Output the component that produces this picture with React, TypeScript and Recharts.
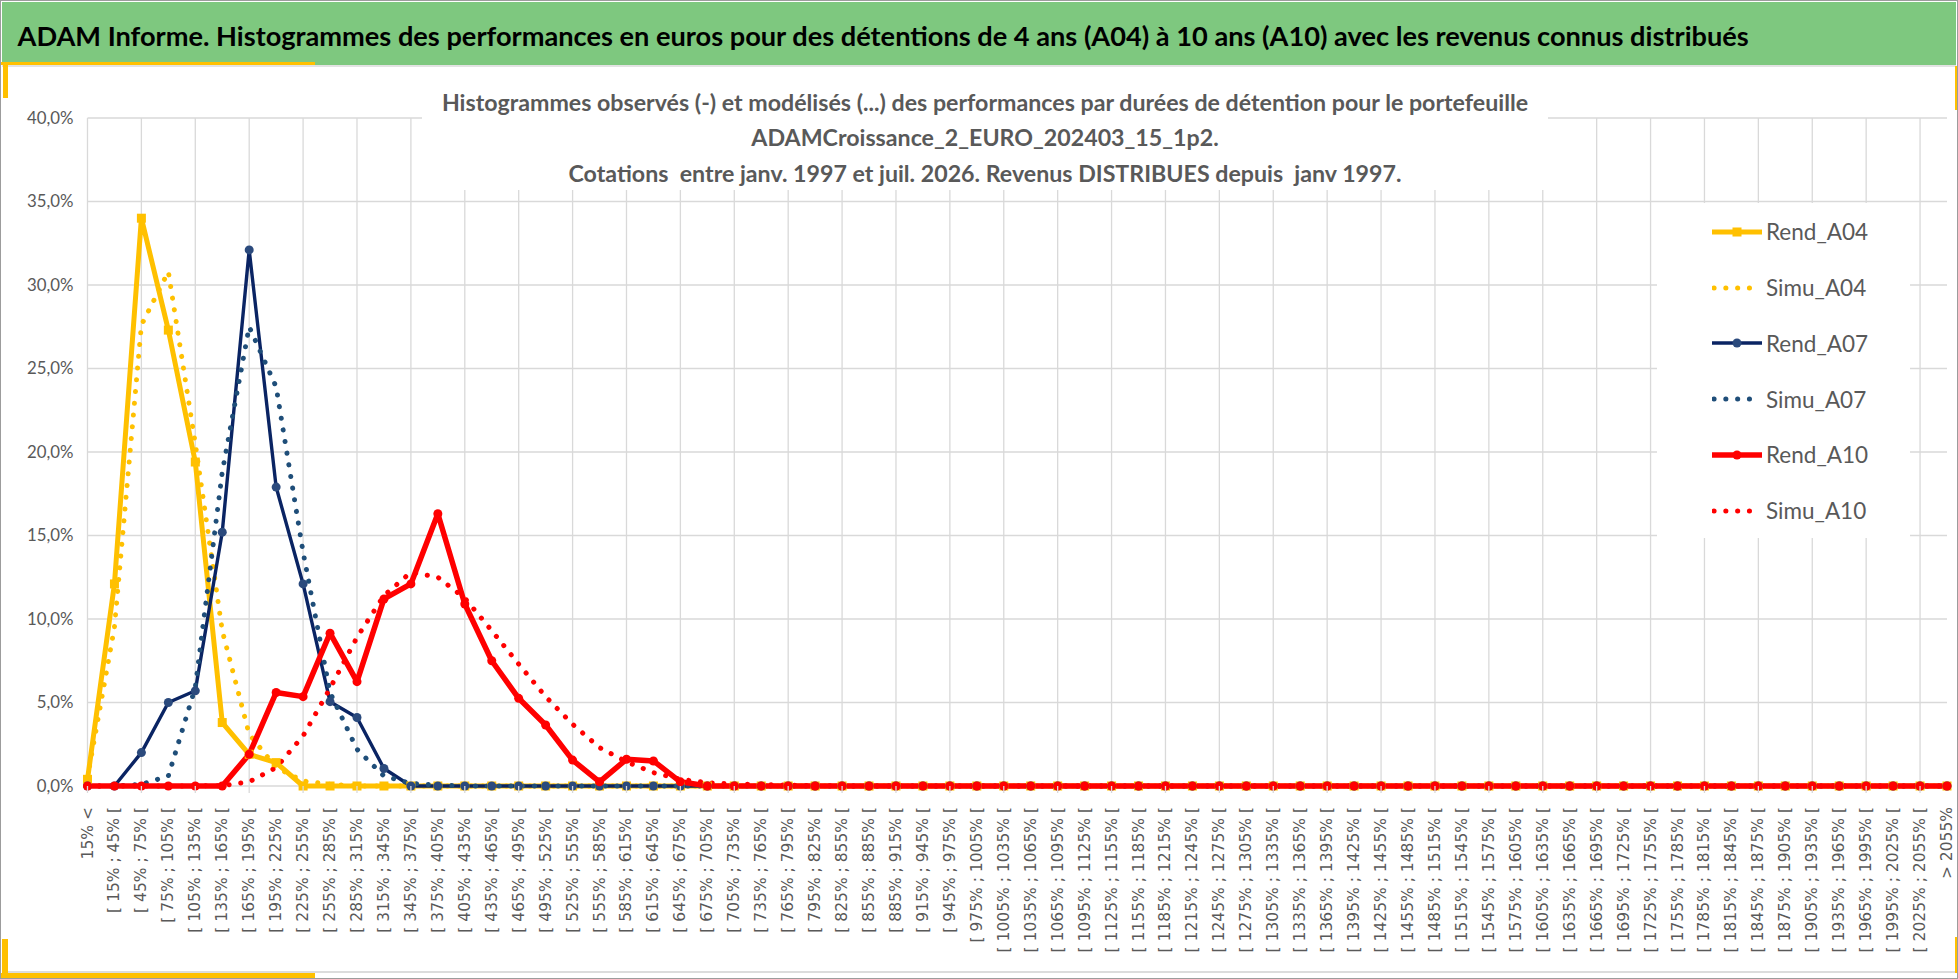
import { LineChart, Line, XAxis, YAxis, CartesianGrid, Legend } from "recharts";

const FONT = "Lato, 'Noto Sans', sans-serif";
const TICK_FONT = "'DejaVu Sans', Verdana, sans-serif";
const GREY_TEXT = "#595959";
const GRID = "#D9D9D9";

// classes de performance (axe des x)
const categories = [
  "15% <", "[ 15% ; 45% [", "[ 45% ; 75% [", "[ 75% ; 105% [", "[ 105% ; 135% [",
  "[ 135% ; 165% [", "[ 165% ; 195% [", "[ 195% ; 225% [", "[ 225% ; 255% [", "[ 255% ; 285% [",
  "[ 285% ; 315% [", "[ 315% ; 345% [", "[ 345% ; 375% [", "[ 375% ; 405% [", "[ 405% ; 435% [",
  "[ 435% ; 465% [", "[ 465% ; 495% [", "[ 495% ; 525% [", "[ 525% ; 555% [", "[ 555% ; 585% [",
  "[ 585% ; 615% [", "[ 615% ; 645% [", "[ 645% ; 675% [", "[ 675% ; 705% [", "[ 705% ; 735% [",
  "[ 735% ; 765% [", "[ 765% ; 795% [", "[ 795% ; 825% [", "[ 825% ; 855% [", "[ 855% ; 885% [",
  "[ 885% ; 915% [", "[ 915% ; 945% [", "[ 945% ; 975% [", "[ 975% ; 1005% [", "[ 1005% ; 1035% [",
  "[ 1035% ; 1065% [", "[ 1065% ; 1095% [", "[ 1095% ; 1125% [", "[ 1125% ; 1155% [", "[ 1155% ; 1185% [",
  "[ 1185% ; 1215% [", "[ 1215% ; 1245% [", "[ 1245% ; 1275% [", "[ 1275% ; 1305% [", "[ 1305% ; 1335% [",
  "[ 1335% ; 1365% [", "[ 1365% ; 1395% [", "[ 1395% ; 1425% [", "[ 1425% ; 1455% [", "[ 1455% ; 1485% [",
  "[ 1485% ; 1515% [", "[ 1515% ; 1545% [", "[ 1545% ; 1575% [", "[ 1575% ; 1605% [", "[ 1605% ; 1635% [",
  "[ 1635% ; 1665% [", "[ 1665% ; 1695% [", "[ 1695% ; 1725% [", "[ 1725% ; 1755% [", "[ 1755% ; 1785% [",
  "[ 1785% ; 1815% [", "[ 1815% ; 1845% [", "[ 1845% ; 1875% [", "[ 1875% ; 1905% [", "[ 1905% ; 1935% [",
  "[ 1935% ; 1965% [", "[ 1965% ; 1995% [", "[ 1995% ; 2025% [", "[ 2025% ; 2055% [", "> 2055%",
];

// fréquences en % (observées / modélisées)
const rendA04 = [
  0.4, 12.1, 34.0, 27.3, 19.4, 3.8, 1.9, 1.4, 0, 0,
  0, 0, 0, 0, 0, 0, 0, 0, 0, 0,
  0, 0, 0, 0, 0, 0, 0, 0, 0, 0,
  0, 0, 0, 0, 0, 0, 0, 0, 0, 0,
  0, 0, 0, 0, 0, 0, 0, 0, 0, 0,
  0, 0, 0, 0, 0, 0, 0, 0, 0, 0,
  0, 0, 0, 0, 0, 0, 0, 0, 0, 0,
];
const simuA04 = [
  0.5, 9.5, 27.6, 30.8, 20.5, 9.3, 3.1, 1.1, 0.3, 0.1,
  0, 0, 0, 0, 0, 0, 0, 0, 0, 0,
  0, 0, 0, 0, 0, 0, 0, 0, 0, 0,
  0, 0, 0, 0, 0, 0, 0, 0, 0, 0,
  0, 0, 0, 0, 0, 0, 0, 0, 0, 0,
  0, 0, 0, 0, 0, 0, 0, 0, 0, 0,
  0, 0, 0, 0, 0, 0, 0, 0, 0, 0,
];
const rendA07 = [
  0, 0, 2.0, 5.0, 5.7, 15.2, 32.1, 17.9, 12.1, 5.05,
  4.1, 1.05, 0, 0, 0, 0, 0, 0, 0, 0,
  0, 0, 0, 0, 0, 0, 0, 0, 0, 0,
  0, 0, 0, 0, 0, 0, 0, 0, 0, 0,
  0, 0, 0, 0, 0, 0, 0, 0, 0, 0,
  0, 0, 0, 0, 0, 0, 0, 0, 0, 0,
  0, 0, 0, 0, 0, 0, 0, 0, 0, 0,
];
const simuA07 = [
  0, 0, 0.1, 0.6, 5.9, 18.8, 27.5, 23.9, 14.0, 5.6,
  2.2, 0.6, 0.15, 0.05, 0, 0, 0, 0, 0, 0,
  0, 0, 0, 0, 0, 0, 0, 0, 0, 0,
  0, 0, 0, 0, 0, 0, 0, 0, 0, 0,
  0, 0, 0, 0, 0, 0, 0, 0, 0, 0,
  0, 0, 0, 0, 0, 0, 0, 0, 0, 0,
  0, 0, 0, 0, 0, 0, 0, 0, 0, 0,
];
const rendA10 = [
  0, 0, 0, 0, 0, 0, 1.9, 5.6, 5.35, 9.15,
  6.25, 11.2, 12.1, 16.3, 10.9, 7.5, 5.25, 3.65, 1.55, 0.25,
  1.6, 1.5, 0.25, 0, 0, 0, 0, 0, 0, 0,
  0, 0, 0, 0, 0, 0, 0, 0, 0, 0,
  0, 0, 0, 0, 0, 0, 0, 0, 0, 0,
  0, 0, 0, 0, 0, 0, 0, 0, 0, 0,
  0, 0, 0, 0, 0, 0, 0, 0, 0, 0,
];
const simuA10 = [
  0, 0, 0, 0, 0, 0.02, 0.25, 1.1, 3.0, 5.85,
  8.9, 11.4, 12.8, 12.5, 11.25, 9.3, 7.3, 5.35, 3.7, 2.3,
  1.45, 0.8, 0.4, 0.2, 0.12, 0.08, 0.05, 0.03, 0, 0,
  0, 0, 0, 0, 0, 0, 0, 0, 0, 0,
  0, 0, 0, 0, 0, 0, 0, 0, 0, 0,
  0, 0, 0, 0, 0, 0, 0, 0, 0, 0,
  0, 0, 0, 0, 0, 0, 0, 0, 0, 0,
];

const yTicks = [0, 5, 10, 15, 20, 25, 30, 35, 40];

const headerText =
  "ADAM Informe. Histogrammes des performances en euros pour des détentions de 4 ans (A04) à 10 ans (A10) avec les revenus connus distribués";
const titleLines = [
  "Histogrammes observés (-) et modélisés (...) des performances par durées de détention pour le portefeuille",
  "ADAMCroissance_2_EURO_202403_15_1p2.",
  "Cotations  entre janv. 1997 et juil. 2026. Revenus DISTRIBUES depuis  janv 1997.",
];

type Serie = {
  key: string;
  values: number[];
  color: string;
  width: number;
  dotted?: boolean;
  marker?: "square" | "circle";
  markerFill?: string;
};

const series: Serie[] = [
  { key: "Rend_A04", values: rendA04, color: "#FFC000", width: 5, marker: "square", markerFill: "#FFC000" },
  { key: "Simu_A04", values: simuA04, color: "#FFC000", width: 5, dotted: true },
  { key: "Rend_A07", values: rendA07, color: "#0A2463", width: 3.4, marker: "circle", markerFill: "#2B4A7D" },
  { key: "Simu_A07", values: simuA07, color: "#1F4E79", width: 5, dotted: true },
  { key: "Rend_A10", values: rendA10, color: "#FF0000", width: 5.5, marker: "circle", markerFill: "#FF0000" },
  { key: "Simu_A10", values: simuA10, color: "#FF0000", width: 5, dotted: true },
];

const data = categories.map((cat, i) => {
  const row: Record<string, any> = { cat };
  series.forEach((s) => (row[s.key] = s.values[i]));
  return row;
});

const DOT_DASH = "0.1 11.7";

const fmtPct = (v: number) => v.toFixed(1).replace(".", ",") + "%";

function squareDot(props: any) {
  const { cx, cy, index } = props;
  if (cx == null || cy == null) return <g key={`sq-${index}`} />;
  return <rect key={`sq-${index}`} x={cx - 4.5} y={cy - 4.5} width={9} height={9} fill="#FFC000" />;
}

function CategoryTick(props: any) {
  const { x, y, payload, index } = props;
  const ty = y + 21;
  return (
    <g>
      {index % 2 === 0 && <line x1={x} x2={x} y1={y} y2={y + 7} stroke={GRID} strokeWidth={1.3} />}
      <text
        x={x}
        y={ty}
        transform={`rotate(-90 ${x} ${ty})`}
        textAnchor="end"
        dominantBaseline="central"
        fill={GREY_TEXT}
        fontSize={15.5}
        fontFamily={TICK_FONT}
      >
        {payload.value}
      </text>
    </g>
  );
}

// lignes verticales de la grille : une catégorie sur deux
const gridX = (args: any) => {
  const { xAxis, offset } = args;
  const scale = xAxis && xAxis.scale;
  const out: number[] = [];
  categories.forEach((c, i) => {
    if (i % 2 !== 0) return;
    if (typeof scale === "function") out.push(scale(c));
    else out.push(offset.left + (i * offset.width) / (categories.length - 1));
  });
  return out;
};

function LegendSample({ s }: { s: Serie }) {
  if (s.dotted) {
    return (
      <svg width={50} height={14}>
        <line x1={2} x2={40} y1={7} y2={7} stroke={s.color} strokeWidth={5} strokeDasharray={DOT_DASH} strokeLinecap="round" />
      </svg>
    );
  }
  return (
    <svg width={50} height={14}>
      <line x1={0} x2={50} y1={7} y2={7} stroke={s.color} strokeWidth={s.width} strokeLinecap="round" />
      {s.marker === "square" ? (
        <rect x={20.5} y={2.5} width={9} height={9} fill={s.markerFill} />
      ) : (
        <circle cx={25} cy={7} r={4.5} fill={s.markerFill} />
      )}
    </svg>
  );
}

const renderLegend = (props: any) => {
  const payload: any[] = props.payload || [];
  // garder l'ordre des séries, pas l'ordre alphabétique
  const items = series.map((s) => ({ s, entry: payload.find((p) => p.dataKey === s.key) }));
  return (
    <div style={{ position: "relative", width: 253, height: 335, background: "#fff" }}>
      {items.map(({ s, entry }, i) => (
        <div
          key={s.key}
          style={{
            position: "absolute",
            left: 55,
            top: 28.7 + i * 55.8 - 14,
            height: 28,
            display: "flex",
            alignItems: "center",
            whiteSpace: "nowrap",
          }}
        >
          <LegendSample s={s} />
          <span style={{ marginLeft: 4, fontFamily: FONT, fontSize: 22.5, color: GREY_TEXT }}>
            {entry ? entry.value : s.key}
          </span>
        </div>
      ))}
    </div>
  );
};

const corner = (style: React.CSSProperties) => (
  <div style={{ position: "absolute", background: "#FFC000", ...style }} />
);

export default function App() {
  return (
    <div
      style={{
        position: "absolute",
        left: 0,
        top: 0,
        width: 1958,
        height: 979,
        background: "#fff",
        overflow: "hidden",
        fontFamily: FONT,
      }}
    >
      {/* bandeau */}
      <div style={{ position: "absolute", left: 2, top: 2, width: 1954, height: 63, background: "#7EC87F" }}>
        <div
          style={{
            position: "absolute",
            left: 15.5,
            top: 2,
            lineHeight: "63px",
            fontSize: 27.2,
            fontWeight: 700,
            color: "#000",
            whiteSpace: "nowrap",
          }}
        >
          {headerText}
        </div>
      </div>

      {/* cadre de la zone graphique */}
      <div
        style={{
          position: "absolute",
          left: 2,
          top: 65,
          width: 1954,
          height: 908,
          boxSizing: "border-box",
          borderTop: "2px solid #E3E3E3",
          borderBottom: "2.5px solid #DCDCDC",
        }}
      />

      <div style={{ position: "absolute", left: 0, top: 66 }}>
        <LineChart width={1958} height={906} data={data} margin={{ top: 52, right: 11, bottom: 0, left: 0 }}>
          <CartesianGrid stroke={GRID} strokeWidth={1.3} verticalCoordinatesGenerator={gridX} />
          <XAxis
            dataKey="cat"
            type="category"
            interval={0}
            height={186}
            axisLine={false}
            tickLine={false}
            tickSize={0}
            tickMargin={0}
            tick={<CategoryTick />}
          />
          <YAxis
            domain={[0, 40]}
            ticks={yTicks}
            width={87.5}
            axisLine={false}
            tickLine={false}
            tickSize={0}
            tickMargin={14}
            tickFormatter={fmtPct}
            tick={{ fill: GREY_TEXT, fontSize: 16.8, fontFamily: FONT }}
          />
          <Legend
            layout="vertical"
            align="center"
            verticalAlign="middle"
            content={renderLegend}
            wrapperStyle={{ position: "absolute", left: 1657, top: 137, width: 253, height: 335 }}
          />
          {series.map((s) => (
            <Line
              key={s.key}
              type="linear"
              dataKey={s.key}
              name={s.key}
              stroke={s.color}
              strokeWidth={s.width}
              strokeDasharray={s.dotted ? DOT_DASH : undefined}
              strokeLinecap="round"
              strokeLinejoin="round"
              dot={
                s.marker === "square"
                  ? squareDot
                  : s.marker === "circle"
                  ? { r: 4.5, fill: s.markerFill, stroke: s.markerFill, strokeWidth: 0 }
                  : false
              }
              activeDot={false}
              isAnimationActive={false}
            />
          ))}
        </LineChart>
      </div>

      {/* titre du graphique */}
      <div style={{ position: "absolute", left: 422, top: 75, width: 1126, height: 115, background: "#fff" }} />
      <div
        style={{
          position: "absolute",
          left: 422,
          top: 84.5,
          width: 1126,
          textAlign: "center",
          fontSize: 23.2,
          lineHeight: "35.5px",
          fontWeight: 700,
          color: GREY_TEXT,
          whiteSpace: "pre",
        }}
      >
        {titleLines.map((t) => (
          <div key={t}>{t}</div>
        ))}
      </div>

      {/* coins jaunes */}
      {corner({ left: 0, top: 62, width: 315, height: 2.5 })}
      {corner({ left: 2.5, top: 64, width: 5, height: 34 })}
      {corner({ left: 2, top: 939, width: 5.5, height: 39 })}
      {corner({ left: 0, top: 972.5, width: 315, height: 5 })}
      {corner({ left: 1954.5, top: 66, width: 3, height: 44 })}
      {corner({ left: 1954.5, top: 937, width: 3, height: 36 })}

      {/* cadre extérieur */}
      <div
        style={{
          position: "absolute",
          left: 0,
          top: 0,
          width: 1958,
          height: 979,
          boxSizing: "border-box",
          border: "1.5px solid #9C9C9C",
          pointerEvents: "none",
        }}
      />
    </div>
  );
}
